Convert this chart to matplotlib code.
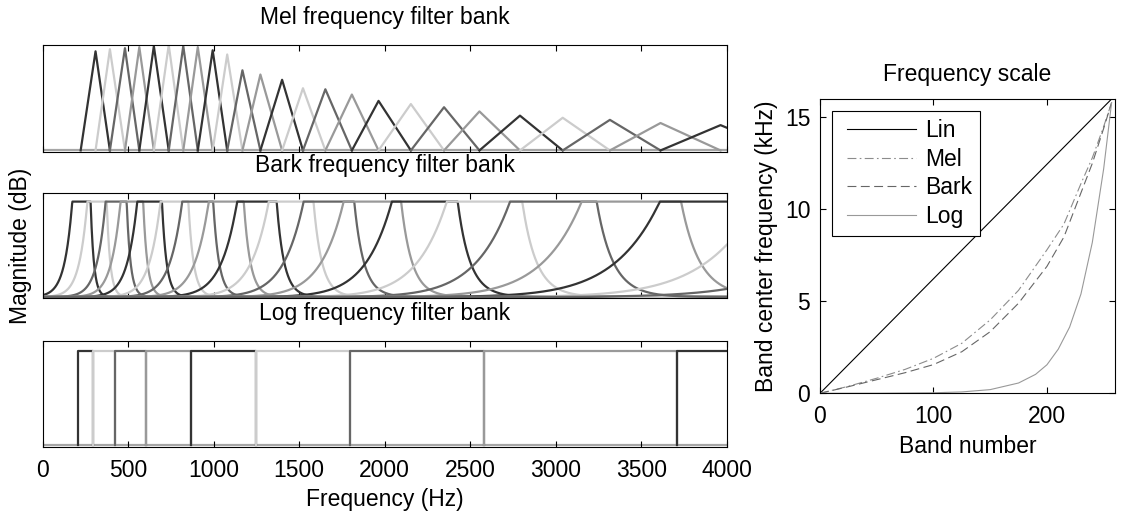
import numpy as np
import matplotlib.pyplot as plt
from matplotlib.legend_handler import HandlerLine2D

plt.rcParams['font.family'] = ['Liberation Sans', 'DejaVu Sans']
plt.rcParams['font.size'] = 16.5
plt.rcParams['axes.titlesize'] = 16.5
plt.rcParams['axes.linewidth'] = 0.8
plt.rcParams['xtick.direction'] = 'in'
plt.rcParams['ytick.direction'] = 'in'
plt.rcParams['xtick.major.size'] = 4
plt.rcParams['ytick.major.size'] = 4
plt.rcParams['xtick.major.pad'] = 8.5
plt.rcParams['ytick.major.pad'] = 7

# gray cycle used for the filters
grays = ['0.2', '0.8', '0.4', '0.6']

# mel bank: triangle edges in Hz (filter i spans edges[i]..edges[i+2]), peak heights
mel_edges = [222, 309, 393, 481, 565, 650, 737, 822, 907, 994, 1079, 1168, 1273,
             1400, 1522, 1653, 1808, 1964, 2153, 2347, 2554, 2791, 3041, 3317,
             3613, 3964, 4320]
mel_peaks = [0.94, 0.96, 0.97, 0.98, 0.99, 1.0, 0.99, 0.98, 0.95, 0.91, 0.76,
             0.72, 0.67, 0.59, 0.58, 0.53, 0.47, 0.44, 0.41, 0.37, 0.33, 0.31,
             0.29, 0.26, 0.24]

# bark bank: frequency (Hz) where each filter reaches its flat top
bark_tops = [173, 261, 368, 455, 553, 689, 816, 971, 1137, 1322, 1526, 1760,
             2042, 2363, 2733, 3152, 3609, 4180, 4790]

# log bank: band edges in Hz
log_edges = [206, 294, 420, 606, 868, 1248, 1795, 2581, 3710, 5340]

# frequency scale panel (band number -> center frequency in kHz)
lin_band = [0, 257]
lin_khz = [0, 16]
mel_band = [0, 25, 50, 75, 100, 125, 150, 175, 200, 215, 230, 240, 250, 257]
mel_khz = [0, 0.38, 0.82, 1.3, 1.9, 2.72, 3.99, 5.6, 7.8, 9.2, 11.4, 12.8, 14.5, 15.8]
bark_band = [0, 25, 50, 75, 100, 125, 150, 175, 200, 215, 230, 240, 250, 257]
bark_khz = [0, 0.36, 0.74, 1.12, 1.56, 2.26, 3.35, 4.9, 6.9, 8.5, 10.9, 12.5, 14.4, 15.8]
log_band = [0, 50, 100, 125, 150, 175, 190, 200, 210, 220, 230, 240, 250, 257]
log_khz = [0, 0.004, 0.028, 0.075, 0.2, 0.56, 1.03, 1.55, 2.4, 3.6, 5.4, 8.2, 12.2, 15.8]

W, H = 1121, 514
fig = plt.figure(figsize=(W / 100, H / 100), dpi=100)

def box(l, t, r, b):
    return [l / W, 1 - b / H, (r - l) / W, (b - t) / H]

ax_mel = fig.add_axes(box(42.7, 45, 726.7, 151.7))
ax_bark = fig.add_axes(box(42.7, 193.3, 726.7, 298.3))
ax_log = fig.add_axes(box(42.7, 341.3, 726.7, 446.7))
ax_sc = fig.add_axes(box(820, 99, 1115, 393.3))

lw = 1.6
base = '0.65'

# mel triangles
for i in range(len(mel_peaks)):
    lo, c, hi = mel_edges[i], mel_edges[i + 1], mel_edges[i + 2]
    ax_mel.plot([lo, c, hi], [0, mel_peaks[i], 0], color=grays[i % 4], lw=lw)

# bark filters (flat top of 1 Bark, skirts 10 dB/Bark below, 25 dB/Bark above)
f = np.linspace(0, 4000, 2001)
z = 6 * np.arcsinh(f / 600.0)
for i, s in enumerate(bark_tops):
    zs = 6 * np.arcsinh(s / 600.0)
    w = 10 ** np.minimum(0, np.minimum(z - zs, -2.5 * (z - zs - 1)))
    ax_bark.plot(f, w, color=grays[i % 4], lw=lw)

# log rectangles
for i in range(len(log_edges) - 1):
    lo, hi = log_edges[i], log_edges[i + 1]
    ax_log.plot([lo, lo, hi, hi], [0, 1, 1, 0], color=grays[i % 4], lw=lw)

for ax, top in [(ax_mel, 1.0), (ax_bark, 1.087), (ax_log, 1.105)]:
    ax.axhline(0, color=base, lw=lw, zorder=1.5)
    ax.set_xlim(0, 4000)
    ax.set_ylim(-0.012 * top, top)
    ax.set_xticks(np.arange(0, 4001, 500))
    ax.set_yticks([])
    ax.tick_params(top=True, bottom=True, labelbottom=False)

ax_log.tick_params(labelbottom=True)
ax_mel.set_title('Mel frequency filter bank', pad=15)
ax_bark.set_title('Bark frequency filter bank', pad=15)
ax_log.set_title('Log frequency filter bank', pad=15)
ax_log.set_xlabel('Frequency (Hz)', labelpad=5)
ax_bark.set_ylabel('Magnitude (dB)', labelpad=8)

# frequency scale
ax_sc.plot(lin_band, lin_khz, color='k', lw=0.8, label='Lin')
ax_sc.plot(mel_band, mel_khz, color='0.55', lw=0.8, ls=(0, (8, 3, 1.5, 3)), label='Mel')
ax_sc.plot(bark_band, bark_khz, color='0.4', lw=0.8, ls=(0, (8, 4)), label='Bark')
ax_sc.plot(log_band, log_khz, color='0.6', lw=0.8, label='Log')
ax_sc.set_xlim(0, 260)
ax_sc.set_ylim(0, 16)
ax_sc.set_xticks([0, 100, 200])
ax_sc.set_yticks([0, 5, 10, 15])
ax_sc.tick_params(top=True, right=True)
ax_sc.set_title('Frequency scale', pad=13)
ax_sc.set_xlabel('Band number', labelpad=5)
ax_sc.set_ylabel('Band center frequency (kHz)', labelpad=5)
leg = ax_sc.legend(loc='upper left', bbox_to_anchor=(0.04, 0.96), borderaxespad=0,
                   fancybox=False, framealpha=1, edgecolor='k', handlelength=3.3,
                   handletextpad=0.4, labelspacing=0.25, borderpad=0.36,
                   handler_map={plt.Line2D: HandlerLine2D(xpad=0.3)})
leg.get_frame().set_linewidth(0.8)

fig.savefig('out.png', dpi=100)
